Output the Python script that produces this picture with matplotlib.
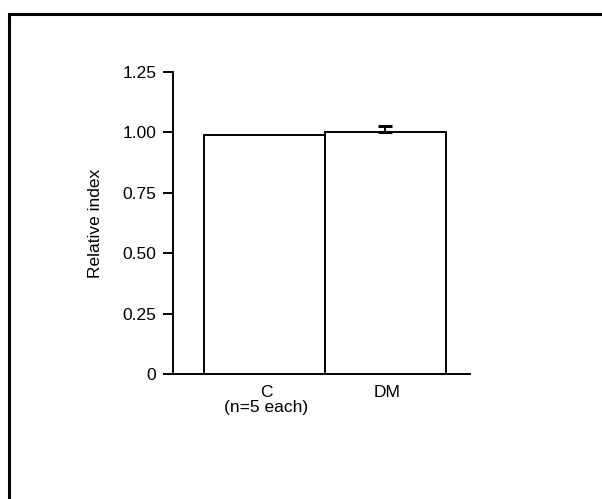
import matplotlib
matplotlib.use("Agg")
import matplotlib.pyplot as plt
from matplotlib.patches import Rectangle
from matplotlib.transforms import ScaledTranslation

groups = ["C\n(n=5 each)", "DM"]
values = [0.99, 1.0]
dm_error = 0.028
yticks = [0, 0.25, 0.5, 0.75, 1.0, 1.25]
ytick_labels = ["0", "0.25", "0.50", "0.75", "1.00", "1.25"]

plt.rcParams["font.family"] = ["Liberation Sans", "DejaVu Sans"]

fig = plt.figure(figsize=(6.02, 4.99), dpi=100)
ax = fig.add_axes([173 / 602, 1 - 374 / 499, (470 - 173) / 602, (374 - 72) / 499])

x = list(range(len(groups)))
ax.bar(x, values, width=1.0, color="white", edgecolor="black", linewidth=1.4)
# only the upper half of the DM error bar is visible
ax.errorbar([x[1]], [values[1]], yerr=[[0], [dm_error]], fmt="none",
            ecolor="black", elinewidth=1.4, capsize=5, capthick=2.2)

ax.set_xlim(-0.756, 1.70)
ax.set_ylim(0, 1.25)
ax.set_yticks(yticks)
ax.set_yticklabels(ytick_labels)
ax.set_xticks(x)
ax.set_xticklabels(groups, linespacing=1.0)
ax.tick_params(axis="x", length=0, pad=8, labelsize=12.5)
ax.tick_params(axis="y", length=7, width=1.4, labelsize=12.5, pad=5)
ax.set_ylabel("Relative index", fontsize=12.5, labelpad=14)
for s in ["top", "right"]:
    ax.spines[s].set_visible(False)
for s in ["left", "bottom"]:
    ax.spines[s].set_linewidth(1.4)

for lbl in ax.get_xticklabels():
    lbl.set_transform(lbl.get_transform() + ScaledTranslation(2 / 100, 0, fig.dpi_scale_trans))

# outer frame cut off by the image edge
fig.patches.append(Rectangle((9 / 602, -0.1), 1.2, 1 - 14 / 499 + 0.1,
                             transform=fig.transFigure, fill=False,
                             edgecolor="black", linewidth=2.2))

plt.savefig("out.png", dpi=100)
